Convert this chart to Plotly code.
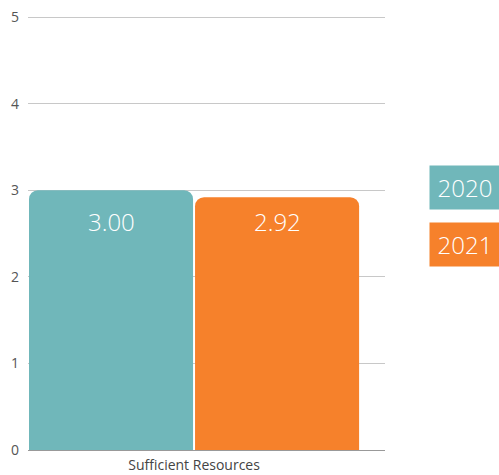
import plotly.graph_objects as go

categories = ["Sufficient Resources"]
series_names = ["2020", "2021"]
values_2020 = [3.00]
values_2021 = [2.92]
colors = ["#70B7BA", "#F6812B"]
y_ticks = [0, 1, 2, 3, 4, 5]

FONT = "Open Sans"
fig = go.Figure()
for name, vals, col in zip(series_names, [values_2020, values_2021], colors):
    fig.add_trace(go.Bar(x=[0], y=vals, name=name, marker=dict(color=col, line=dict(width=0)),
                         showlegend=False, hoverinfo="skip"))

# value labels
ymax = max(values_2020 + values_2021)
offsets = [-0.25, 0.25]
for off, vals in zip(offsets, [values_2020, values_2021]):
    fig.add_annotation(x=0 + off, y=ymax, xref="x", yref="y", text=f"{vals[0]:.2f}",
                       showarrow=False, yshift=-31, yanchor="middle",
                       font=dict(family=FONT, size=24, color="white", weight=300))

# legend boxes
leg_tops = [0.6537, 0.5230]
for name, col, yt in zip(series_names, colors, leg_tops):
    fig.add_annotation(x=1.123, y=yt, xref="paper", yref="paper", xanchor="left", yanchor="top",
                       text=name, showarrow=False, bgcolor=col, width=70, height=43,
                       borderpad=0, align="center", valign="middle",
                       font=dict(family=FONT, size=24, color="white", weight=300))

fig.update_layout(
    width=499, height=475,
    margin=dict(l=28, r=114, t=14, b=25),
    plot_bgcolor="white", paper_bgcolor="white",
    barmode="group", bargap=0, bargroupgap=0.012,
    barcornerradius=9,
    font=dict(family=FONT, color="#555"),
    xaxis=dict(range=[-0.5, 0.575], tickvals=[0], ticktext=categories, showgrid=False,
               zeroline=False, showline=True, linecolor="#999", linewidth=1,
               tickfont=dict(size=14, color="#444"), ticks="", ticklabelstandoff=2,
               automargin=False),
    yaxis=dict(range=[0, 5.035], tickvals=y_ticks, showgrid=True, gridcolor="#c8c8c8",
               gridwidth=1, zeroline=False, showline=False, ticks="",
               tickfont=dict(size=14, color="#555"), ticklabelstandoff=8,
               automargin=False),
)
fig.write_html("out.html")
